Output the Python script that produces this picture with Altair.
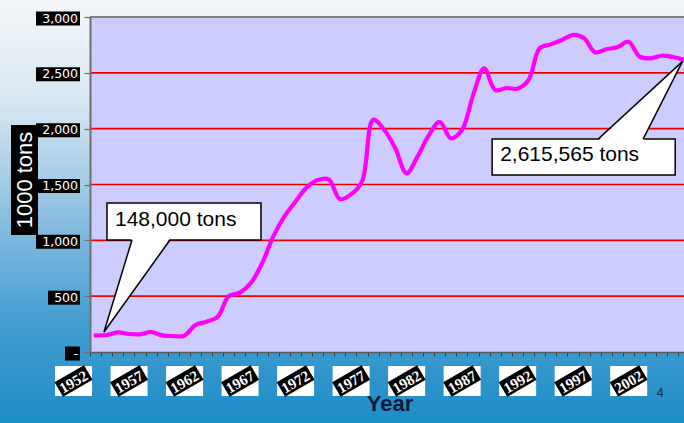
import altair as alt
import pandas as pd

# ---- data ---------------------------------------------------------------
years = list(range(1952, 2006))
catch_kt = [148, 152, 176, 161, 158, 179, 149, 143, 146, 242,
            271, 316, 501, 531, 620, 794, 1033, 1212, 1346, 1472,
            1540, 1546, 1370, 1410, 1525, 2080, 1990, 1824, 1600, 1750,
            1937, 2062, 1914, 1988, 2298, 2540, 2346, 2364, 2358, 2436,
            2720, 2755, 2794, 2839, 2809, 2684, 2711, 2729, 2779, 2645,
            2630, 2653, 2642, 2615.565]

label_years = [1952, 1957, 1962, 1967, 1972, 1977, 1982, 1987, 1992, 1997, 2002]
y_ticks = [0, 500, 1000, 1500, 2000, 2500, 3000]
y_tick_text = ["-", "500", "1,000", "1,500", "2,000", "2,500", "3,000"]

# callouts: box extent, pointer tip and pointer base (data units)
callout_text = ["148,000 tons", "2,615,565 tons"]
callout_box_x0 = [1953.03, 1987.72]
callout_box_x1 = [1966.90, 2004.21]
callout_box_v0 = [1003, 1585]
callout_box_v1 = [1334, 1907]
callout_tip_x = [1952.76, 2004.85]
callout_tip_v = [179, 2600]
callout_base_x0 = [1955.28, 1997.27]
callout_base_x1 = [1958.70, 2001.32]
callout_base_v = [1003, 1907]

# ---- layout -------------------------------------------------------------
W, H = 594, 335
PAD = {"left": 90, "top": 17, "right": 0, "bottom": 71}
X_SCALE = alt.Scale(domain=[1951.5, 2005.0], nice=False, zero=False)
Y_SCALE = alt.Scale(domain=[0, 3000], nice=False, zero=False)
X_AXIS = alt.Axis(values=[y - 0.5 for y in years], labels=False, title=None, grid=False,
                  tickSize=4, tickColor="#3a3a3a", tickWidth=1,
                  domainColor="#5a5a5a", domainWidth=1.5, zindex=1)
Y_AXIS = alt.Axis(values=y_ticks, labels=False, title=None, grid=False,
                  tickSize=6, tickColor="#6f6f6f", tickWidth=1.2,
                  domainColor="#6f6f6f", domainWidth=2, zindex=1)
FONT = "Liberation Sans"
UNITS_PER_PX = 3000 / H

series = pd.DataFrame({"year": years, "kt": catch_kt})
one = pd.DataFrame({"k": [0]})
ticks_df = pd.DataFrame({"v": y_ticks, "label": y_tick_text})
labels_df = pd.DataFrame({"year": label_years, "label": [str(y) for y in label_years]})

callouts = pd.DataFrame({
    "text": callout_text, "x0": callout_box_x0, "x1": callout_box_x1,
    "v0": callout_box_v0, "v1": callout_box_v1,
    "tx": callout_tip_x, "tv": callout_tip_v,
    "bx0": callout_base_x0, "bx1": callout_base_x1, "bv": callout_base_v,
})
callouts["vm"] = (callouts["v0"] + callouts["v1"]) / 2


def pointer_rows(i, r):
    """Vertical slices of the pointer triangle, base pushed slightly into the box."""
    into_box = 1 if r.v1 > r.bv + 1 else -1
    bv = r.bv + into_box * 1.6 * UNITS_PER_PX
    pts = sorted([(r.tx, r.tv), (r.bx0, bv), (r.bx1, bv)])
    (xa, ya), (xb, yb), (xc, yc) = pts
    other = ya + (yc - ya) * (xb - xa) / (xc - xa)
    return [
        {"id": i, "x": xa, "lo": ya, "hi": ya},
        {"id": i, "x": xb, "lo": min(yb, other), "hi": max(yb, other)},
        {"id": i, "x": xc, "lo": yc, "hi": yc},
    ]


pointer_df = pd.DataFrame([row for i, r in enumerate(callouts.itertuples()) for row in pointer_rows(i, r)])
edges_df = pd.DataFrame(
    [{"x": r.tx, "v": r.tv, "x2": r.bx0, "v2": r.bv} for r in callouts.itertuples()]
    + [{"x": r.tx, "v": r.tv, "x2": r.bx1, "v2": r.bv} for r in callouts.itertuples()]
)


def X(field):
    return alt.X(field, type="quantitative", scale=X_SCALE, axis=X_AXIS)


def Y(field):
    return alt.Y(field, type="quantitative", scale=Y_SCALE, axis=Y_AXIS)


# ---- layers -------------------------------------------------------------
gradient = alt.Gradient(
    gradient="linear", x1=0, x2=0, y1=0, y2=1,
    stops=[alt.GradientStop(color="#f4f6f9", offset=0),
           alt.GradientStop(color="#d6e6f2", offset=0.25),
           alt.GradientStop(color="#8fc0e1", offset=0.5),
           alt.GradientStop(color="#479fd2", offset=0.75),
           alt.GradientStop(color="#1c8cc6", offset=1)],
)
background = alt.Chart(one).mark_rect(color=gradient).encode(
    x=alt.value(-PAD["left"]), x2=alt.value(W), y=alt.value(-PAD["top"]), y2=alt.value(H + PAD["bottom"]))

plot_fill = alt.Chart(one).mark_rect(color="#ccccff").encode(
    x=alt.value(0), x2=alt.value(W), y=alt.value(0), y2=alt.value(H))

gridlines = alt.Chart(ticks_df).transform_filter("datum.v > 0 && datum.v < 3000").mark_rule(
    color="#ee0000", strokeWidth=1.7).encode(y=Y("v"), x=alt.value(0), x2=alt.value(W))

top_border = alt.Chart(one).mark_rule(color="#808080", strokeWidth=2).encode(
    y=alt.value(0), x=alt.value(0), x2=alt.value(W))

line = alt.Chart(series).mark_line(
    color="#ff00ff", strokeWidth=4.2, interpolate="catmull-rom", strokeCap="round", strokeJoin="round"
).encode(x=X("year"), y=Y("kt"))

callout_box = alt.Chart(callouts).mark_rect(fill="white", stroke="black", strokeWidth=1.5).encode(
    x=X("x0"), x2="x1", y=Y("v0"), y2="v1")
pointer = alt.Chart(pointer_df).mark_area(color="white", interpolate="linear", orient="vertical").encode(
    x=X("x"), y=Y("lo"), y2="hi", detail="id:N")
pointer_edges = alt.Chart(edges_df).mark_rule(color="black", strokeWidth=1.5).encode(
    x=X("x"), y=Y("v"), x2="x2", y2="v2")
callout_label = alt.Chart(callouts).mark_text(
    align="left", baseline="middle", font=FONT, fontSize=21, color="black", dx=8, dy=-2
).encode(x=X("x0"), y=Y("vm"), text="text:N")

# y tick labels: white text on black boxes, box width by label length
ytick_boxes = []
for n_chars, box_w in [(5, 44), (3, 32), (1, 15)]:
    ytick_boxes.append(
        alt.Chart(ticks_df)
        .transform_filter(f"length(datum.label) == {n_chars}")
        .transform_calculate(lo=f"datum.v - {8.5 * UNITS_PER_PX}", hi=f"datum.v + {5.5 * UNITS_PER_PX}")
        .mark_rect(color="black")
        .encode(x=alt.value(-10 - box_w), x2=alt.value(-10), y=Y("lo"), y2="hi")
    )
ytick_text = alt.Chart(ticks_df).mark_text(
    align="right", baseline="middle", font="DejaVu Sans", fontSize=12.5, color="white", dy=1.5
).encode(x=alt.value(-12), y=Y("v"), text="label:N")

ytitle_box = alt.Chart(one).mark_rect(color="black").encode(
    x=alt.value(-79), x2=alt.value(-52), y=alt.value(108), y2=alt.value(218))
ytitle = alt.Chart(one).mark_text(
    text="1000 tons", angle=270, align="center", baseline="middle", font=FONT, fontSize=22, color="white"
).encode(x=alt.value(-65), y=alt.value(163))

# x tick labels: rotated white-on-black year tags on white cards
card = alt.Chart(labels_df).mark_point(
    shape="M-1,-0.81 L1,-0.81 L1,0.81 L-1,0.81 Z", filled=True, fill="white", strokeWidth=0,
    size=1369, opacity=1, xOffset=-22
).encode(x=X("year"), y=alt.value(364))
tag = alt.Chart(labels_df).mark_point(
    shape="M-1,-0.5 L1,-0.5 L1,0.5 L-1,0.5 Z", filled=True, fill="black", strokeWidth=0,
    size=1156, opacity=1, angle=330, xOffset=-22
).encode(x=X("year"), y=alt.value(364))
tag_text = alt.Chart(labels_df).mark_text(
    font="Liberation Serif", fontWeight="bold", fontSize=15, color="white", angle=330,
    align="center", baseline="middle", xOffset=-22
).encode(x=X("year"), y=alt.value(365), text="label:N")

xtitle = alt.Chart(one).mark_text(
    text="Year", font=FONT, fontSize=22, fontWeight="bold", color="#0d1b3a", align="center", baseline="middle"
).encode(x=alt.value(300), y=alt.value(387))
page_no = alt.Chart(one).mark_text(
    text="4", font=FONT, fontSize=13, color="#1a2a40", align="center", baseline="middle"
).encode(x=alt.value(570), y=alt.value(376))

chart = alt.layer(
    background, plot_fill, gridlines, top_border, line,
    callout_box, pointer, pointer_edges, callout_label,
    *ytick_boxes, ytick_text, ytitle_box, ytitle,
    card, tag, tag_text, xtitle, page_no,
).properties(
    width=W, height=H, padding=PAD, autosize=alt.AutoSizeParams(type="none"),
).configure_view(stroke=None)

chart.save("out.html", embed_options={"renderer": "svg", "actions": False})
